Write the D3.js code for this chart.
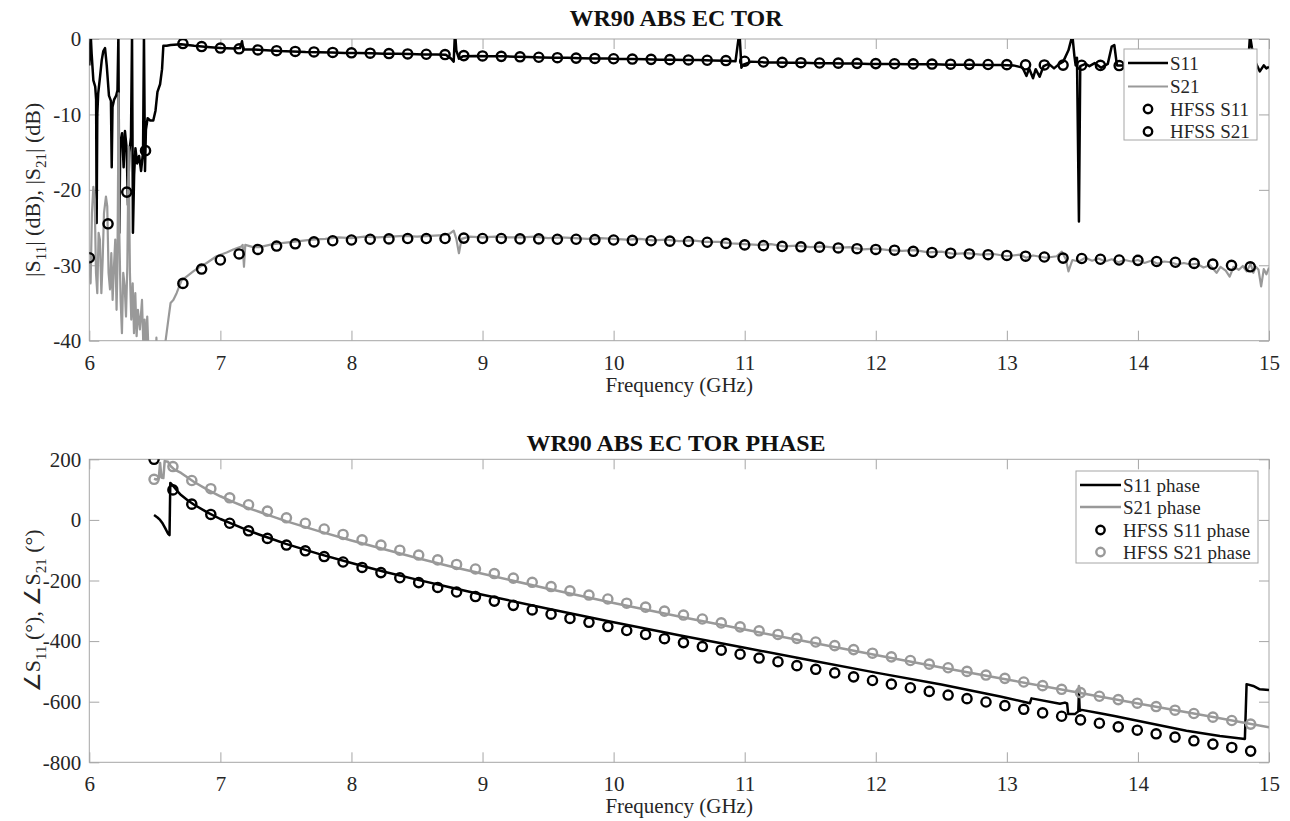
<!DOCTYPE html>
<html>
<head>
<meta charset="utf-8">
<script src="https://cdn.jsdelivr.net/npm/d3@7"></script>
<style>
  body { margin: 0; background: #fff; }
  svg { display: block; }
  svg text { font-family: "Liberation Serif", "Times New Roman", serif; }
</style>
</head>
<body>
<svg id="chart" width="1290" height="821" font-family="Liberation Serif, serif"></svg>
<script>
// ---------- tick values ----------
const xTicks = [6, 7, 8, 9, 10, 11, 12, 13, 14, 15];
const magTicks = [-40, -30, -20, -10, 0];
const phaseTicks = [-800, -600, -400, -200, 0, 200];

// ---------- simulated (HFSS) magnitude, dB ----------
const hfssMagFreq = [6.000, 6.143, 6.286, 6.429, 6.571, 6.714, 6.857, 7.000, 7.143, 7.286, 7.429, 7.571,
  7.714, 7.857, 8.000, 8.143, 8.286, 8.429, 8.571, 8.714, 8.857, 9.000, 9.143, 9.286, 9.429, 9.571,
  9.714, 9.857, 10.000, 10.143, 10.286, 10.429, 10.571, 10.714, 10.857, 11.000, 11.143, 11.286, 11.429,
  11.571, 11.714, 11.857, 12.000, 12.143, 12.286, 12.429, 12.571, 12.714, 12.857, 13.000, 13.143,
  13.286, 13.429, 13.571, 13.714, 13.857, 14.000, 14.143, 14.286, 14.429, 14.571, 14.714, 14.857];
const hfssS11dB = [null, null, null, null, null, -0.6, -1.0, -1.2, -1.3, -1.45, -1.55, -1.65,
  -1.72, -1.78, -1.83, -1.88, -1.93, -1.98, -2.02, -2.06, -2.2, -2.25, -2.3, -2.36, -2.42, -2.48,
  -2.53, -2.58, -2.62, -2.66, -2.7, -2.74, -2.78, -2.82, -2.86, -2.95, -3.05, -3.1, -3.14,
  -3.18, -3.2, -3.23, -3.26, -3.28, -3.3, -3.32, -3.34, -3.36, -3.38, -3.4, -3.42,
  -3.44, -3.46, -3.48, -3.5, -3.52, -3.54, -3.56, -3.58, -3.6, -3.62, -3.64, -3.66];
const hfssS21dB = [-29.0, -24.5, -20.3, -14.8, null, -32.4, -30.5, -29.3, -28.5, -27.9, -27.45, -27.15,
  -26.9, -26.75, -26.65, -26.55, -26.5, -26.45, -26.45, -26.45, -26.4, -26.45, -26.45, -26.5, -26.5, -26.55,
  -26.55, -26.6, -26.65, -26.7, -26.75, -26.8, -26.85, -26.95, -27.1, -27.3, -27.4, -27.5, -27.55,
  -27.6, -27.7, -27.8, -27.9, -28.0, -28.15, -28.3, -28.4, -28.5, -28.6, -28.7, -28.8,
  -28.9, -29.05, -29.1, -29.2, -29.3, -29.35, -29.5, -29.6, -29.75, -29.85, -30.0, -30.2];

// ---------- measured magnitude [GHz, dB] ----------
const measS11dB = [
  [6.000,-3.5],[6.006,-1.0],[6.011,0.5],[6.018,-2.0],[6.031,-5.5],[6.045,-6.3],[6.052,-8.0],[6.056,-24.4],
  [6.061,-10.0],[6.068,-7.2],[6.082,-5.0],[6.095,-2.8],[6.107,-1.6],[6.120,-1.2],[6.133,-3.5],[6.150,-7.5],
  [6.165,-8.2],[6.171,-17.0],[6.177,-9.0],[6.190,-8.0],[6.205,-7.5],[6.215,-6.8],[6.222,0.5],[6.229,-25.7],
  [6.236,-14.0],[6.250,-12.5],[6.262,-17.0],[6.272,-12.2],[6.285,-14.5],[6.295,-22.0],[6.305,-15.0],[6.318,-13.0],
  [6.326,0.5],[6.333,-25.7],[6.342,-18.0],[6.352,-14.5],[6.365,-16.5],[6.380,-15.5],[6.395,-17.5],[6.410,-15.0],
  [6.417,0.5],[6.425,-17.5],[6.432,-12.0],[6.445,-10.5],[6.465,-10.8],[6.488,-10.8],[6.505,-9.5],[6.520,-7.0],
  [6.540,-6.0],[6.555,-4.0],[6.565,-0.9],[6.590,-0.9],[6.62,-0.8],[6.70,-0.7],[6.80,-0.9],[6.90,-1.05],
  [7.00,-1.2],[7.10,-1.25],[7.15,-1.2],[7.165,-0.3],[7.175,-1.4],[7.25,-1.4],[7.35,-1.5],[7.45,-1.6],
  [7.55,-1.65],[7.65,-1.72],[7.75,-1.75],[7.85,-1.8],[7.95,-1.85],[8.05,-1.85],[8.15,-1.9],[8.25,-1.95],
  [8.35,-1.95],[8.45,-2.0],[8.55,-2.05],[8.65,-2.05],[8.72,-2.1],[8.76,-2.6],[8.78,-3.0],[8.79,1.0],
  [8.80,-1.5],[8.82,-2.6],[8.85,-2.3],[8.95,-2.25],[9.05,-2.3],[9.15,-2.3],[9.25,-2.35],[9.35,-2.4],
  [9.45,-2.45],[9.55,-2.5],[9.65,-2.5],[9.75,-2.55],[9.85,-2.6],[9.95,-2.6],[10.05,-2.65],[10.15,-2.65],
  [10.25,-2.7],[10.35,-2.75],[10.45,-2.75],[10.55,-2.8],[10.65,-2.8],[10.75,-2.85],[10.85,-2.9],[10.93,-2.95],
  [10.96,1.0],[10.975,-3.8],[10.99,-3.4],[11.05,-3.0],[11.15,-3.1],[11.25,-3.1],[11.35,-3.15],[11.45,-3.15],
  [11.55,-3.2],[11.65,-3.2],[11.75,-3.25],[11.85,-3.25],[11.95,-3.3],[12.05,-3.3],[12.15,-3.3],[12.25,-3.35],
  [12.35,-3.35],[12.45,-3.35],[12.55,-3.4],[12.65,-3.4],[12.75,-3.4],[12.85,-3.45],[12.95,-3.45],[13.05,-3.5],
  [13.12,-3.8],[13.15,-4.9],[13.17,-3.9],[13.20,-5.2],[13.22,-4.0],[13.25,-5.0],[13.28,-3.6],[13.32,-3.3],
  [13.36,-3.9],[13.40,-3.3],[13.43,-3.0],[13.47,-1.5],[13.50,0.5],[13.515,-2.2],[13.525,-3.5],[13.535,-2.5],
  [13.55,-24.2],[13.56,-3.6],[13.60,-3.3],[13.63,-3.6],[13.67,-3.2],[13.72,-3.8],[13.77,-3.3],[13.80,-1.0],
  [13.82,-0.8],[13.84,-3.5],[13.90,-3.5],[14.00,-3.55],[14.10,-3.6],[14.20,-3.6],[14.30,-3.65],[14.40,-3.6],
  [14.50,-3.7],[14.60,-3.65],[14.70,-3.7],[14.80,-3.7],[14.84,-3.6],[14.855,0.5],[14.87,-1.2],[14.90,-3.2],
  [14.93,-4.3],[14.96,-3.5],[14.98,-3.9],[15.00,-3.7]
];
const measS21dB = [
  [6.000,-29.3],[6.010,-32.4],[6.020,-23.1],[6.031,-19.6],[6.041,-21.3],[6.051,-31.0],[6.061,-33.7],[6.071,-25.7],
  [6.081,-26.6],[6.092,-33.7],[6.102,-29.3],[6.112,-23.1],[6.127,-20.9],[6.137,-22.2],[6.147,-31.0],[6.158,-33.2],
  [6.168,-28.4],[6.178,-34.6],[6.188,-30.2],[6.198,-26.6],[6.208,-35.9],[6.214,-31.0],[6.224,-7.2],[6.229,-25.7],
  [6.239,-34.6],[6.249,-39.0],[6.259,-31.0],[6.270,-32.8],[6.280,-36.8],[6.290,-30.2],[6.300,-14.3],[6.310,-31.0],
  [6.320,-37.2],[6.331,-32.4],[6.341,-39.0],[6.351,-33.7],[6.361,-39.4],[6.371,-35.9],[6.386,-38.5],[6.402,-34.6],
  [6.412,-40.5],[6.422,-37.2],[6.432,-41.0],[6.442,-36.8],[6.453,-42.0],[6.460,-48.0],[6.505,-48.0],[6.512,-39.6],
  [6.520,-48.0],[6.575,-48.0],[6.582,-40.0],[6.603,-37.2],[6.620,-35.0],[6.641,-34.6],[6.666,-33.7],[6.704,-32.0],
  [6.742,-31.5],[6.793,-30.8],[6.844,-30.2],[6.895,-29.7],[6.971,-28.8],[7.048,-28.3],[7.098,-27.9],[7.160,-27.5],
  [7.170,-27.3],[7.180,-30.2],[7.190,-27.3],[7.25,-27.6],[7.30,-27.6],[7.40,-27.2],[7.50,-27.0],[7.60,-26.8],
  [7.70,-26.6],[7.80,-26.5],[7.90,-26.3],[8.00,-26.4],[8.10,-26.2],[8.20,-26.3],[8.30,-26.2],[8.40,-26.1],
  [8.50,-26.2],[8.60,-26.1],[8.70,-26.0],[8.75,-25.8],[8.78,-25.4],[8.80,-26.5],[8.82,-28.4],[8.84,-26.5],
  [8.90,-26.2],[9.00,-26.3],[9.10,-26.2],[9.20,-26.3],[9.30,-26.3],[9.40,-26.2],[9.50,-26.4],[9.60,-26.3],
  [9.70,-26.4],[9.80,-26.5],[9.90,-26.4],[10.00,-26.5],[10.10,-26.6],[10.20,-26.5],[10.30,-26.7],[10.40,-26.6],
  [10.50,-26.8],[10.60,-26.7],[10.70,-26.9],[10.80,-26.9],[10.90,-27.1],[11.00,-27.2],[11.10,-27.3],[11.20,-27.2],
  [11.30,-27.5],[11.40,-27.4],[11.50,-27.6],[11.60,-27.5],[11.70,-27.7],[11.80,-27.6],[11.90,-27.9],[12.00,-27.8],
  [12.10,-28.0],[12.20,-28.1],[12.30,-28.0],[12.40,-28.3],[12.50,-28.2],[12.60,-28.5],[12.70,-28.4],[12.80,-28.6],
  [12.90,-28.5],[13.00,-28.8],[13.10,-28.6],[13.15,-29.0],[13.20,-28.7],[13.30,-29.0],[13.38,-28.8],[13.42,-28.2],
  [13.45,-29.2],[13.47,-30.8],[13.50,-29.3],[13.55,-29.5],[13.60,-29.0],[13.65,-29.4],[13.70,-29.1],[13.75,-29.5],
  [13.80,-29.2],[13.85,-29.6],[13.90,-29.3],[13.95,-29.5],[14.00,-29.3],[14.05,-29.7],[14.10,-29.4],[14.15,-29.8],
  [14.20,-29.5],[14.25,-29.6],[14.30,-29.9],[14.35,-29.7],[14.40,-29.9],[14.45,-29.8],[14.50,-30.3],[14.55,-30.0],
  [14.60,-31.0],[14.63,-30.2],[14.67,-30.7],[14.70,-31.5],[14.73,-30.2],[14.77,-30.6],[14.80,-30.1],[14.83,-30.8],
  [14.86,-29.8],[14.88,-31.0],[14.90,-30.2],[14.92,-30.6],[14.94,-32.8],[14.96,-30.5],[14.98,-31.2],[15.00,-30.3]
];

// ---------- simulated (HFSS) phase, degrees ----------
const hfssPhaseFreq = [6.494, 6.638, 6.782, 6.927, 7.071, 7.215, 7.359, 7.504, 7.648, 7.792, 7.936, 8.081,
  8.225, 8.369, 8.513, 8.658, 8.802, 8.946, 9.090, 9.235, 9.379, 9.523, 9.667, 9.812, 9.956, 10.100,
  10.244, 10.388, 10.533, 10.677, 10.821, 10.965, 11.110, 11.254, 11.398, 11.542, 11.687, 11.831, 11.975,
  12.119, 12.264, 12.408, 12.552, 12.696, 12.841, 12.985, 13.129, 13.273, 13.418, 13.562, 13.706, 13.850,
  13.995, 14.139, 14.283, 14.427, 14.572, 14.716, 14.860];
const hfssS11Phase = [200, 99, 52, 18, -11, -36, -61, -83, -102, -121, -139, -157, -174, -191, -207, -223,
  -238, -253, -268, -282, -297, -311, -325, -338, -352, -365, -378, -392, -405, -418, -430, -443, -456,
  -468, -481, -493, -505, -518, -530, -542, -554, -566, -578, -590, -601, -613, -625, -637, -648, -660,
  -671, -683, -694, -706, -717, -729, -740, -751, -763];
const hfssS21Phase = [134, 176, 130, 103, 73, 50, 29, 7, -11, -30, -48, -66, -83, -100, -116, -132,
  -147, -162, -177, -192, -206, -220, -234, -248, -261, -275, -288, -301, -314, -327, -340, -353, -366,
  -378, -391, -403, -415, -428, -440, -452, -464, -476, -488, -500, -512, -523, -535, -547, -559, -570,
  -582, -593, -605, -616, -628, -639, -651, -662, -674];

// ---------- measured phase [GHz, degrees] ----------
const measS11Phase = [
  [6.494,16],[6.52,8],[6.54,0],[6.56,-12],[6.58,-28],[6.600,-45],[6.612,-50],[6.618,122],[6.64,112],[6.67,96],
  [6.70,82],[6.75,65],[6.80,50],[6.90,25],[7.00,3],[7.10,-15],[7.20,-33],[7.30,-49],[7.40,-64],[7.50,-79],
  [7.75,-112],[8.00,-142],[8.25,-171],[8.50,-197],[8.75,-222],[9.00,-247],[9.50,-293],[10.00,-338],[10.50,-381],
  [11.00,-422],[11.50,-463],[12.00,-504],[12.50,-543],[12.95,-583],[13.176,-605],[13.188,-589],[13.405,-607],
  [13.443,-603],[13.460,-606],[13.468,-641],[13.519,-641],[13.545,-632],[13.550,-567],[13.556,-630],[13.570,-627],
  [13.710,-638],[13.820,-647],[14.090,-671],[14.370,-696],[14.625,-713],[14.816,-723],[14.829,-542],[14.880,-548],
  [14.930,-559],[15.000,-561]
];
const measS21Phase = [
  [6.494,136],[6.51,133],[6.53,137],[6.54,188],[6.55,140],[6.565,138],[6.575,194],[6.60,192],[6.62,178],[6.65,166],
  [6.70,155],[6.80,125],[6.90,100],[7.00,78],[7.10,59],[7.20,41],[7.30,26],[7.40,11],[7.50,-4],[7.75,-37],
  [8.00,-68],[8.25,-97],[8.50,-126],[8.75,-153],[9.00,-178],[9.50,-227],[10.00,-274],[10.50,-319],[11.00,-362],
  [11.50,-404],[12.00,-446],[12.50,-487],[13.00,-527],[13.50,-566],[13.54,-569],[13.55,-548],[13.56,-571],
  [14.00,-606],[14.50,-645],[15.00,-684]
];

// ---------- styling ----------
const SERIF = '"Liberation Serif", "Times New Roman", serif';
const BLACK = "#000000";
const GREY = "#999999";
const FRAME = "#a6a6a6";
const INK = "#262626";
const plotLeft = 89.3, plotRight = 1269;

const svg = d3.select("#chart");
const x = d3.scaleLinear().domain([6, 15]).range([plotLeft, plotRight]);

function drawPanel(opts) {
  const y = d3.scaleLinear().domain(opts.yDomain).range([opts.bottom, opts.top]);
  const g = svg.append("g");
  const clipId = opts.id + "-clip";
  svg.append("clipPath").attr("id", clipId).append("rect")
    .attr("x", plotLeft).attr("y", opts.top)
    .attr("width", plotRight - plotLeft).attr("height", opts.bottom - opts.top);

  // axes with inward ticks on all four sides
  const fmt = d => String(d);
  const axB = g.append("g").attr("transform", `translate(0,${opts.bottom})`)
    .call(d3.axisBottom(x).tickValues(xTicks).tickSize(-10).tickPadding(14).tickFormat(fmt));
  const axT = g.append("g").attr("transform", `translate(0,${opts.top})`)
    .call(d3.axisTop(x).tickValues(xTicks).tickSize(-10).tickFormat(""));
  const axL = g.append("g").attr("transform", `translate(${plotLeft},0)`)
    .call(d3.axisLeft(y).tickValues(opts.yTicks).tickSize(-10).tickPadding(8).tickFormat(fmt));
  const axR = g.append("g").attr("transform", `translate(${plotRight},0)`)
    .call(d3.axisRight(y).tickValues(opts.yTicks).tickSize(-10).tickFormat(""));
  [axB, axT, axL, axR].forEach(a => {
    a.attr("font-family", SERIF).attr("font-size", 21);
    a.select(".domain").remove();
    a.selectAll(".tick line").attr("stroke", FRAME).attr("stroke-width", 1);
    a.selectAll(".tick text").attr("fill", INK).attr("font-size", 21).attr("font-family", SERIF);
  });
  g.append("rect").attr("x", plotLeft).attr("y", opts.top)
    .attr("width", plotRight - plotLeft).attr("height", opts.bottom - opts.top)
    .attr("fill", "none").attr("stroke", FRAME).attr("stroke-width", 1);

  // title and axis labels
  g.append("text").attr("x", 676).attr("y", opts.titleY)
    .attr("text-anchor", "middle").attr("font-weight", "bold").attr("font-size", 24)
    .attr("font-family", SERIF).attr("fill", "#111").text(opts.title);
  g.append("text").attr("x", (plotLeft + plotRight) / 2).attr("y", opts.bottom + 51)
    .attr("text-anchor", "middle").attr("font-size", 21).attr("font-family", SERIF)
    .attr("fill", INK).text("Frequency (GHz)");
  const yl = g.append("text")
    .attr("transform", `translate(40,${(opts.top + opts.bottom) / 2}) rotate(-90)`)
    .attr("text-anchor", "middle").attr("font-size", 22).attr("font-family", SERIF).attr("fill", INK);
  let lowered = false;
  opts.yLabel.forEach(part => {
    if (part.sub) {
      yl.append("tspan").attr("dy", 6).attr("font-size", 15).text(part.sub);
      lowered = true;
    } else {
      const t = yl.append("tspan").text(part.t);
      if (lowered) { t.attr("dy", -6); lowered = false; }
    }
  });

  const data = g.append("g").attr("clip-path", `url(#${clipId})`);
  const line = d3.line().x(d => x(d[0])).y(d => y(d[1]));
  opts.lines.forEach(l => {
    data.append("path").datum(l.data).attr("d", line)
      .attr("fill", "none").attr("stroke", l.color).attr("stroke-width", l.width)
      .attr("stroke-linejoin", "round");
  });
  opts.markers.forEach(m => {
    const pts = m.freq.map((f, i) => [f, m.values[i]]).filter(d => d[1] !== null);
    data.append("g").selectAll("circle").data(pts).join("circle")
      .attr("cx", d => x(d[0])).attr("cy", d => y(d[1])).attr("r", 4.6)
      .attr("fill", "none").attr("stroke", m.color).attr("stroke-width", 2.4);
  });

  // legend
  const L = opts.legend;
  const lg = g.append("g");
  lg.append("rect").attr("x", L.x).attr("y", L.y).attr("width", L.w).attr("height", L.h)
    .attr("fill", "#fff").attr("stroke", FRAME).attr("stroke-width", 1);
  L.items.forEach((it, i) => {
    const cy = L.rows[i];
    if (it.kind === "line") {
      lg.append("line").attr("x1", L.lineX0).attr("x2", L.lineX1).attr("y1", cy).attr("y2", cy)
        .attr("stroke", it.color).attr("stroke-width", it.width);
    } else {
      lg.append("circle").attr("cx", (L.lineX0 + L.lineX1) / 2).attr("cy", cy).attr("r", 4.2)
        .attr("fill", "none").attr("stroke", it.color).attr("stroke-width", 2.4);
    }
    lg.append("text").attr("x", L.textX).attr("y", cy + 6.5).attr("font-size", 19)
      .attr("font-family", SERIF).attr("fill", INK).text(it.label);
  });
}

drawPanel({
  id: "mag", top: 39, bottom: 340.7, yDomain: [-40, 0], yTicks: magTicks,
  title: "WR90 ABS EC TOR", titleY: 26,
  yLabel: [{ t: "|S" }, { sub: "11" }, { t: "| (dB), |S" }, { sub: "21" }, { t: "| (dB)" }],
  lines: [
    { data: measS11dB, color: BLACK, width: 2.5 },
    { data: measS21dB, color: GREY, width: 2.2 }
  ],
  markers: [
    { freq: hfssMagFreq, values: hfssS11dB, color: BLACK },
    { freq: hfssMagFreq, values: hfssS21dB, color: BLACK }
  ],
  legend: {
    x: 1124, y: 49, w: 133, h: 91, rows: [63, 86.5, 109, 131.5],
    lineX0: 1128, lineX1: 1168, textX: 1170,
    items: [
      { kind: "line", color: BLACK, width: 2.5, label: "S11" },
      { kind: "line", color: GREY, width: 2.2, label: "S21" },
      { kind: "marker", color: BLACK, label: "HFSS S11" },
      { kind: "marker", color: BLACK, label: "HFSS S21" }
    ]
  }
});

drawPanel({
  id: "phase", top: 459.3, bottom: 762.3, yDomain: [-800, 200], yTicks: phaseTicks,
  title: "WR90 ABS EC TOR PHASE", titleY: 451,
  yLabel: [{ t: "\u2220S" }, { sub: "11" }, { t: " (\u00b0), \u2220S" }, { sub: "21" }, { t: " (\u00b0)" }],
  lines: [
    { data: measS11Phase, color: BLACK, width: 2.5 },
    { data: measS21Phase, color: GREY, width: 2.5 }
  ],
  markers: [
    { freq: hfssPhaseFreq, values: hfssS11Phase, color: BLACK },
    { freq: hfssPhaseFreq, values: hfssS21Phase, color: GREY }
  ],
  legend: {
    x: 1076, y: 471, w: 182, h: 92, rows: [485, 507, 530, 552],
    lineX0: 1080, lineX1: 1121, textX: 1123,
    items: [
      { kind: "line", color: BLACK, width: 2.5, label: "S11 phase" },
      { kind: "line", color: GREY, width: 2.5, label: "S21 phase" },
      { kind: "marker", color: BLACK, label: "HFSS S11 phase" },
      { kind: "marker", color: GREY, label: "HFSS S21 phase" }
    ]
  }
});
</script>
</body>
</html>
